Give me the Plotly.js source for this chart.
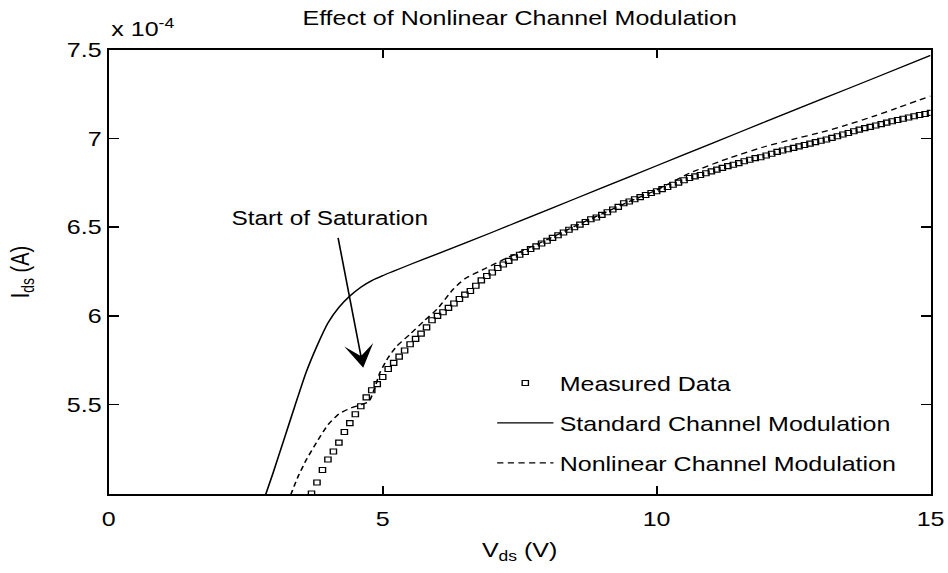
<!DOCTYPE html>
<html><head><meta charset="utf-8">
<script src="https://cdn.plot.ly/plotly-3.0.1.min.js"></script>
<style>
html,body{margin:0;padding:0;background:#fff;overflow:hidden;}
#wrap{width:948px;height:573px;overflow:hidden;}
#chart{width:758px;height:573px;transform:scaleX(1.2507);transform-origin:0 0;}
</style></head><body><div id="wrap"><div id="chart"></div></div>
<script>
// Measured data (Vds in V, Ids in units of 1e-4 A)
const measV = [3.7,3.8,3.9,4.0,4.1,4.2,4.3,4.4,4.5,4.6,4.7,4.8,4.9,5.0,5.1,5.2,5.3,5.4,5.5,5.6,5.7,5.8,5.9,6.0,
  6.1,6.2,6.3,6.4,6.5,6.6,6.7,6.8,6.9,7.0,7.1,7.2,7.3,7.4,7.5,7.6,7.7,7.8,7.9,8.0,8.1,8.2,8.3,8.4,8.5,8.6,8.7,8.8,8.9,9.0,
  9.1,9.2,9.3,9.4,9.5,9.6,9.7,9.8,9.9,10.0,10.1,10.2,10.3,10.4,10.5,10.6,10.7,10.8,10.9,11.0,11.1,11.2,11.3,11.4,11.5,11.6,11.7,11.8,11.9,12.0,
  12.1,12.2,12.3,12.4,12.5,12.6,12.7,12.8,12.9,13.0,13.1,13.2,13.3,13.4,13.5,13.6,13.7,13.8,13.9,14.0,14.1,14.2,14.3,14.4,14.5,14.6,14.7,14.8,14.9,15.0];
const measI = [4.998,5.06,5.13,5.19,5.235,5.285,5.345,5.395,5.445,5.49,5.54,5.58,5.615,5.655,5.70,5.735,5.77,5.805,5.84,5.87,5.90,5.935,5.975,6.00,
  6.02,6.045,6.07,6.095,6.12,6.14,6.17,6.20,6.225,6.245,6.27,6.29,6.31,6.33,6.345,6.36,6.377,6.392,6.408,6.424,6.44,6.455,6.47,6.486,6.50,6.515,6.53,6.545,6.555,6.57,
  6.585,6.60,6.615,6.635,6.645,6.658,6.67,6.682,6.693,6.703,6.715,6.727,6.74,6.752,6.765,6.778,6.787,6.795,6.805,6.815,6.825,6.835,6.845,6.853,6.862,6.872,6.881,6.89,6.895,6.905,
  6.915,6.925,6.933,6.94,6.948,6.956,6.964,6.972,6.98,6.988,6.995,7.004,7.013,7.023,7.032,7.042,7.051,7.059,7.066,7.074,7.082,7.09,7.098,7.105,7.112,7.119,7.126,7.133,7.139,7.145];

// Standard channel modulation model
const stdV = [2.85,3.0,3.2,3.4,3.6,3.8,4.0,4.2,4.4,4.6,4.8,5.0,5.2,5.5,6.0,7.0,8.0,9.0,10.0,11.0,12.0,13.0,14.0,15.0];
const stdI = [4.98,5.115,5.305,5.495,5.68,5.83,5.96,6.048,6.112,6.162,6.199,6.227,6.252,6.29,6.35,6.472,6.597,6.722,6.847,6.972,7.097,7.221,7.345,7.47];

// Nonlinear channel modulation model
const nlV = [3.32,3.45,3.6,3.8,4.0,4.2,4.4,4.6,4.75,4.85,4.95,5.1,5.25,5.5,5.75,6.0,6.28,6.5,6.89,7.2,7.5,8.0,8.5,9.0,9.5,10.0,10.6,11.33,12.0,12.5,13.0,13.4,14.0,14.31,15.0];
const nlI = [4.99,5.09,5.185,5.29,5.385,5.447,5.478,5.498,5.517,5.59,5.68,5.765,5.827,5.897,5.97,6.04,6.148,6.21,6.27,6.317,6.36,6.43,6.505,6.575,6.645,6.71,6.805,6.891,6.957,6.997,7.035,7.07,7.13,7.164,7.24];

const xTicks = [0,5,10,15];
const yTicks = [5.5,6,6.5,7,7.5];
const yTickText = ['5.5','6','6.5','7','7.5'];

const FONT = 'Liberation Sans, Arial, Helvetica, sans-serif';

const traces = [
  {x: measV, y: measI, type:'scatter', mode:'markers', name:'Measured Data', legendgroup:'a',
   marker:{symbol:'square-open', size:5, color:'#000', line:{width:1.1, color:'#000'}}},
  {x: stdV, y: stdI, type:'scatter', mode:'lines', name:'Standard Channel Modulation', legendgroup:'b',
   line:{color:'#000', width:1.3, shape:'spline', smoothing:0.6}},
  {x: nlV, y: nlI, type:'scatter', mode:'lines', name:'Nonlinear Channel Modulation', legendgroup:'c',
   line:{color:'#000', width:1.3, dash:'5px,3.5px', shape:'spline', smoothing:0.5}}
];

const axisCommon = {
  showline:true, linecolor:'#000', linewidth:1.8, mirror:'ticks',
  ticks:'inside', ticklen:8, tickwidth:1.6, tickcolor:'#000',
  showgrid:false, zeroline:false, tickfont:{family:FONT, size:20, color:'#000'}
};

const layout = {
  width:758, height:573,
  margin:{l:87, r:14, t:50, b:79},
  paper_bgcolor:'#fff', plot_bgcolor:'#fff',
  font:{family:FONT, size:20, color:'#000'},
  showlegend:true,
  title:{text:'Effect of Nonlinear Channel Modulation', font:{family:FONT, size:20, color:'#000'},
         x:0.5, xref:'paper', y:1-18/573, yref:'container', yanchor:'middle'},
  xaxis:Object.assign({}, axisCommon, {range:[0,15], tickvals:xTicks, ticktext:xTicks.map(String),
         ticklabelstandoff:6,
         title:{text:'V<sub>ds</sub> (V)', font:{family:FONT, size:20, color:'#000'}, standoff:14}}),
  yaxis:Object.assign({}, axisCommon, {range:[4.995,7.5], tickvals:yTicks, ticktext:yTickText,
         title:{text:'I<sub>ds</sub> (A)', font:{family:FONT, size:20, color:'#000'}, standoff:24}}),
  legend:{x:0.465, y:0.294, xanchor:'left', yanchor:'top', bgcolor:'rgba(0,0,0,0)', borderwidth:0,
          font:{family:FONT, size:20, color:'#000'}, itemwidth:45, tracegroupgap:11, traceorder:'grouped'},
  annotations:[
    {xref:'paper', yref:'paper', x:0, y:1, xanchor:'left', yanchor:'bottom', yshift:8, showarrow:false,
     text:'x 10<sup>-4</sup>', font:{family:FONT, size:20, color:'#000'}},
    {x:4.033, y:6.554, xref:'x', yref:'y', showarrow:false, text:'Start of Saturation',
     font:{family:FONT, size:19.5, color:'#000'}, xanchor:'center', yanchor:'middle'},
    {x:4.644, y:5.707, xref:'x', yref:'y', showarrow:true, text:' ', font:{size:1},
     ax:-20.4, ay:-132, arrowhead:3, arrowsize:3, arrowwidth:1.3, arrowcolor:'#000'}
  ]
};

Plotly.newPlot('chart', traces, layout, {staticPlot:true, displayModeBar:false});
</script></body></html>
